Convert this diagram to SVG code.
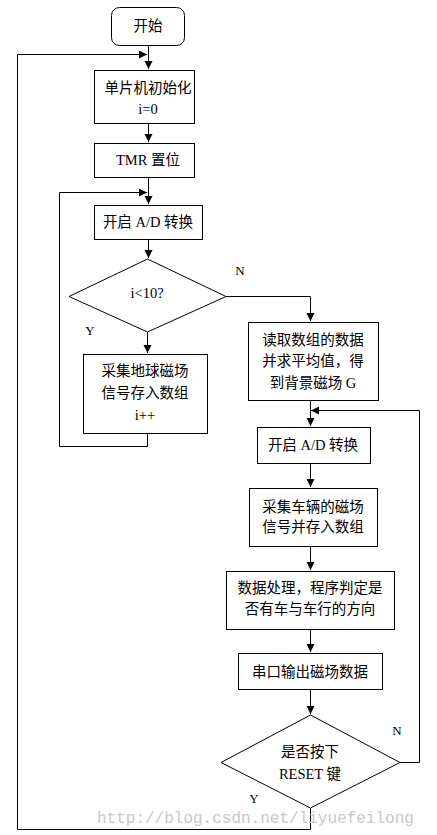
<svg xmlns="http://www.w3.org/2000/svg" width="437" height="835" viewBox="0 0 437 835">
<defs>
<marker id="arr" markerUnits="userSpaceOnUse" markerWidth="9" markerHeight="9" refX="8" refY="4" orient="auto">
<path d="M0,0 L8,4 L0,8 z" fill="#000"/>
</marker>
<style>
.n{fill:#fff;stroke:#000;stroke-width:1}
.t{font-family:"Liberation Serif","Noto Sans CJK SC",serif;font-size:14.5px;fill:#000;text-anchor:middle}
.l{font-family:"Liberation Serif",serif;font-size:13px;fill:#000;text-anchor:middle}
.c{fill:none;stroke:#000;stroke-width:1}
.a{marker-end:url(#arr)}
</style>
</defs>
<rect width="437" height="835" fill="#fff"/>
<g id="connectors">
<path class="c a" d="M148.5,45 V69"/>
<path class="c a" d="M310.5,808 V829.5 H17.5 V54.5 H147"/>
<path class="c a" d="M148.5,123 V142"/>
<path class="c a" d="M148.5,177 V204"/>
<path class="c a" d="M147.5,433 V446.5 H59.5 V192.5 H147"/>
<path class="c a" d="M148.5,239 V258"/>
<path class="c a" d="M147.5,332 V353"/>
<path class="c a" d="M226,296.5 H310.5 V321"/>
<path class="c a" d="M310.5,400 V426"/>
<path class="c a" d="M400,762.5 H419.5 V410.5 H311"/>
<path class="c a" d="M310.5,463 V487"/>
<path class="c a" d="M310.5,546 V570"/>
<path class="c a" d="M310.5,629 V652"/>
<path class="c a" d="M310.5,689 V714"/>
</g>
<g id="start"><rect class="n" x="111.5" y="7.5" width="73" height="38" rx="8"/><text class="t" x="148" y="31">开始</text></g>
<g id="init"><rect class="n" x="94.5" y="70.5" width="100" height="53"/><text class="t" x="148" y="93">单片机初始化</text><text class="t" x="148" y="114">i=0</text></g>
<g id="tmr"><rect class="n" x="94.5" y="143.5" width="100" height="34"/><text class="t" x="148" y="165">TMR 置位</text></g>
<g id="ad1"><rect class="n" x="94.5" y="205.5" width="108" height="34"/><text class="t" x="148" y="227">开启 A/D 转换</text></g>
<g id="cond1"><path class="n" d="M147.5,259 L226,296.5 L147.5,332 L69,296.5 z"/><text class="t" x="147" y="298">i&lt;10?</text></g>
<g id="collect1"><rect class="n" x="83.5" y="354.5" width="124" height="79"/><text class="t" x="145" y="376">采集地球磁场</text><text class="t" x="145" y="398">信号存入数组</text><text class="t" x="145" y="420">i++</text></g>
<g id="avg"><rect class="n" x="248.5" y="322.5" width="130" height="78"/><text class="t" x="313" y="345">读取数组的数据</text><text class="t" x="313" y="366">并求平均值，得</text><text class="t" x="313" y="388">到背景磁场 G</text></g>
<g id="ad2"><rect class="n" x="257.5" y="427.5" width="113" height="36"/><text class="t" x="313" y="450">开启 A/D 转换</text></g>
<g id="collect2"><rect class="n" x="249.5" y="488.5" width="128" height="58"/><text class="t" x="313" y="512">采集车辆的磁场</text><text class="t" x="313" y="532">信号并存入数组</text></g>
<g id="process"><rect class="n" x="226.5" y="571.5" width="168" height="58"/><text class="t" x="310" y="593">数据处理，程序判定是</text><text class="t" x="310" y="614">否有车与车行的方向</text></g>
<g id="output"><rect class="n" x="238.5" y="653.5" width="144" height="36"/><text class="t" x="310" y="677">串口输出磁场数据</text></g>
<g id="cond2"><path class="n" d="M310.5,715 L400,762.5 L310.5,808 L221,762.5 z"/><text class="t" x="310" y="757">是否按下</text><text class="t" x="310" y="779">RESET 键</text></g>
<g id="labels">
<text class="l" x="240" y="275">N</text>
<text class="l" x="90" y="335">Y</text>
<text class="l" x="397" y="735">N</text>
<text class="l" x="254" y="803">Y</text>
</g>
<text x="97" y="823" style="font-family:'Liberation Mono',monospace;font-size:16px;fill:#c8c8c8">http://blog.csdn.net/liyuefeilong</text>
</svg>
